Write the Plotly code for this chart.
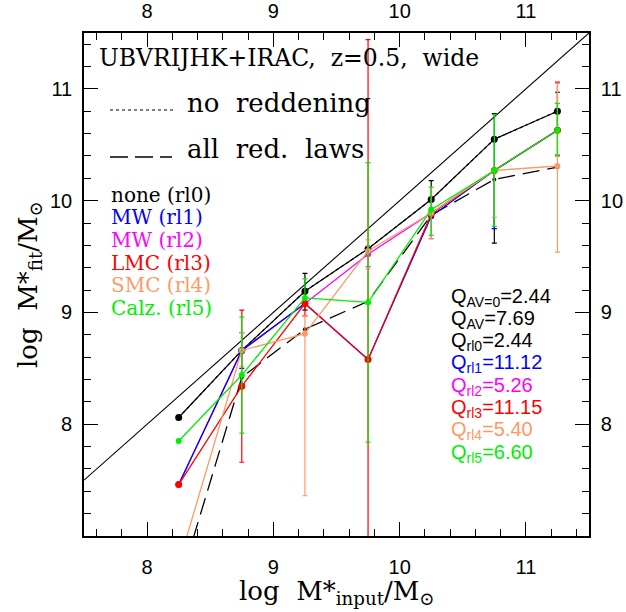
import numpy as np
import plotly.graph_objects as go

# input stellar mass bins (log M*_input / Msun)
m_input = [8.25, 8.75, 9.25, 9.75, 10.25, 10.75, 11.25]

# recovered stellar masses (log M*_fit / Msun) for each reddening law
fit_rl0 = [8.06, 8.66, 9.19, 9.57, 10.01, 10.55, 10.80]   # none
fit_rl1 = [7.46, 8.66, 9.08, 8.58, 9.86, 10.27, 10.63]    # MW
fit_rl2 = [7.46, 8.66, 9.08, 9.52, 9.89, 10.27, 10.63]    # MW
fit_rl3 = [7.46, 8.34, 9.08, 8.58, 9.88, 10.27, 10.63]    # LMC
fit_rl4 = [6.75, 8.66, 8.81, 9.55, 9.89, 10.27, 10.31]    # SMC
fit_rl5 = [7.85, 8.44, 9.13, 9.09, 9.92, 10.27, 10.63]    # Calzetti
fit_all = [6.55, 8.42, 8.85, 9.10, 9.87, 10.19, 10.30]    # all reddening laws
fit_av0 = [8.06, 8.66, 9.19, 9.57, 10.01, 10.55, 10.80]   # no reddening

nan = np.nan
# asymmetric uncertainties (upper, lower)
err_rl0_up = [nan, nan, 0.16, nan, 0.17, 0.23, 0.17]
err_rl0_lo = [nan, nan, 0.17, nan, 0.16, 0.93, 0.17]
err_rl1_up = [nan, 0.16, nan, nan, nan, nan, nan]
err_rl1_lo = [nan, 0.16, nan, nan, nan, 0.52, nan]
err_rl2_up = [nan, nan, nan, 0.07, nan, nan, nan]
err_rl2_lo = [nan, nan, nan, 0.11, 0.23, 0.52, nan]
err_rl3_up = [nan, 0.68, nan, 2.86, nan, nan, 0.43]
err_rl3_lo = [nan, 0.68, 0.11, 3.00, nan, nan, 0.23]
err_rl4_up = [nan, 0.16, 0.16, 0.10, 0.23, nan, 0.74]
err_rl4_lo = [nan, 0.14, 1.45, 0.16, 0.23, 0.42, 0.77]
err_rl5_up = [nan, 0.52, 0.17, 1.25, 0.20, 0.50, 0.24]
err_rl5_lo = [nan, 0.52, nan, 1.25, 0.23, 0.50, 0.22]

# axis ranges; the one-to-one line spans the x range
x_range = [7.5, 11.5]
y_range = [7.0, 11.5]
tick_vals = [8, 9, 10, 11]

laws = ["none (rl0)", "MW (rl1)", "MW (rl2)", "LMC (rl3)", "SMC (rl4)", "Calz. (rl5)"]
law_colors = ["#000000", "#0000ff", "#ff00ff", "#ff0000", "#ff9966", "#00ee00"]

q_labels = ["Q<sub>AV=0</sub>=2.44", "Q<sub>AV</sub>=7.69", "Q<sub>rl0</sub>=2.44",
            "Q<sub>rl1</sub>=11.12", "Q<sub>rl2</sub>=5.26", "Q<sub>rl3</sub>=11.15",
            "Q<sub>rl4</sub>=5.40", "Q<sub>rl5</sub>=6.60"]
q_colors = ["#000000", "#000000", "#000000", "#0000ff", "#ff00ff", "#ff0000",
            "#ff9966", "#00ee00"]

# plot area in pixels
W, H = 626, 612
L, R, T, B = 84, 589, 33, 536


def px(x):
    return (x - L) / (R - L)


def py(y):
    return (B - y) / (B - T)


fig = go.Figure()

fig.add_trace(go.Scatter(x=x_range, y=x_range, mode="lines",
                         line=dict(color="black", width=1.1), hoverinfo="skip"))


def series(y, color, up=None, lo=None, dash="solid", width=1.3, msize=6):
    err = None
    if up is not None:
        err = dict(type="data", symmetric=False, array=up, arrayminus=lo,
                   color=color, thickness=1.2, width=2.5)
    fig.add_trace(go.Scatter(x=m_input, y=y, mode="lines+markers",
                             line=dict(color=color, width=width, dash=dash),
                             marker=dict(color=color, size=msize),
                             error_y=err))


series(fit_all, "black", dash="17px,8px", width=1.3, msize=4)
series(fit_rl0, law_colors[0], err_rl0_up, err_rl0_lo, width=1.2, msize=7)
series(fit_av0, "black", dash="dot", width=1.2, msize=4)
series(fit_rl2, law_colors[2], err_rl2_up, err_rl2_lo)
series(fit_rl1, law_colors[1], err_rl1_up, err_rl1_lo)
series(fit_rl3, law_colors[3], err_rl3_up, err_rl3_lo, msize=7)
series(fit_rl4, law_colors[4], err_rl4_up, err_rl4_lo)
series(fit_rl5, law_colors[5], err_rl5_up, err_rl5_lo)

serif = "DejaVu Serif"
sans = "Liberation Sans"
annotations = []


def text(x, y, s, size, color="black", family=serif, xanchor="left", angle=0):
    annotations.append(dict(x=px(x), y=py(y), xref="paper", yref="paper", text=s,
                            showarrow=False, xanchor=xanchor, yanchor="middle",
                            textangle=angle,
                            font=dict(family=family, size=size, color=color)))


nb = "\u00a0"
text(97, 58, "UBVRIJHK+IRAC," + nb * 2 + "z=0.5," + nb * 2 + "wide", 23.5)
text(185, 103, "no" + nb * 2 + "reddening", 26)
text(185, 149, "all" + nb * 2 + "red." + nb * 2 + "laws", 26)

for i, (lab, col) in enumerate(zip(laws, law_colors)):
    text(109, 195 + 22.5 * i, lab.replace(" ", nb), 20, col)

for i, (lab, col) in enumerate(zip(q_labels, q_colors)):
    text(449, 297 + 22.3 * i, lab, 20, col, family=sans)

text(337, 592, "log" + nb * 2 + "M*<sub>input</sub>/M<sub>\u2299</sub>", 26, xanchor="center")
text(29, 285, "log" + nb * 2 + "M*<sub>fit</sub>/M<sub>\u2299</sub>", 26, xanchor="center", angle=-90)

shapes = [
    dict(type="line", xref="paper", yref="paper", x0=px(110), x1=px(173),
         y0=py(110), y1=py(110), line=dict(color="black", width=1.2, dash="dot")),
    dict(type="line", xref="paper", yref="paper", x0=px(110), x1=px(172),
         y0=py(157), y1=py(157), line=dict(color="black", width=1.3, dash="18px,7px")),
]

axis_common = dict(showline=True, linecolor="black", linewidth=1.6,
                   ticks="inside", ticklen=14, tickwidth=1.2, tickcolor="black",
                   tickmode="array", tickvals=tick_vals, automargin=False,
                   showgrid=False, zeroline=False,
                   minor=dict(ticks="inside", ticklen=7, tickwidth=1.1,
                              tickcolor="black", dtick=0.2, tick0=0, showgrid=False),
                   tickfont=dict(family=sans, size=20, color="black"))

fig.update_layout(
    width=W, height=H,
    margin=dict(l=L, r=W - R, t=T, b=H - B, autoexpand=False),
    paper_bgcolor="white", plot_bgcolor="white",
    showlegend=False,
    xaxis=dict(range=x_range, ticklabelstandoff=12, **axis_common),
    yaxis=dict(range=y_range, ticklabelstandoff=6, **axis_common),
    xaxis2=dict(range=x_range, overlaying="x", side="top", anchor="y",
                ticklabelstandoff=5, **axis_common),
    yaxis2=dict(range=y_range, overlaying="y", side="right", anchor="x",
                ticklabelstandoff=6, **axis_common),
    annotations=annotations,
    shapes=shapes,
)

# invisible trace binding the top and right axes
fig.add_trace(go.Scatter(x=x_range, y=y_range, xaxis="x2", yaxis="y2", mode="markers",
                         marker=dict(opacity=0), hoverinfo="skip"))

fig.write_html("out.html")
